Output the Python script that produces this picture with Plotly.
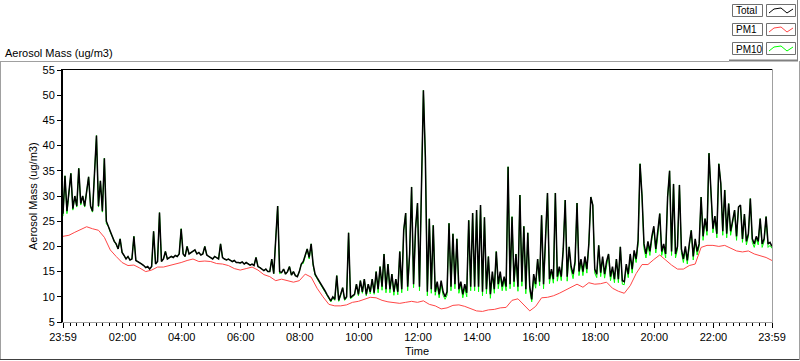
import pandas as pd
import plotly.graph_objects as go

# ---------------- data ----------------
START = "2009-06-01 23:59:00"
STEP_MIN = 4        # sampling interval of Total / PM10
PM1_STEP_MIN = 12   # sampling interval of PM1

total = [
    26.5, 34, 27, 31, 34.5, 27.5, 30, 28, 35.5, 28.5, 30, 28, 31.5, 33.8, 28,
    27, 34.5, 42, 28, 33, 27, 37.5, 25, 24, 22.8, 22, 21, 20.5, 19.5, 21.5,
    18.8, 18.2, 17.5, 18, 17.3, 17.5, 22, 17.2, 17, 16.8, 16.5, 16.2, 15.8, 16, 15.5,
    16, 23, 16.5, 17, 26.7, 17, 17.5, 19, 17.5, 17.8, 18, 17.8, 18.2, 18, 18.5,
    23.5, 18.5, 18, 20, 18.5, 18.8, 19, 19.3, 18.5, 18.8, 18.3, 18.5, 20, 18.3, 18,
    17.8, 17.5, 18, 17.8, 17.5, 20.5, 17.8, 17.5, 17.3, 17.5, 17.2, 17, 17.2, 16.8, 16.8,
    16.7, 16.9, 16.5, 16.8, 16.6, 16.3, 16.5, 16.2, 17.8, 16, 15.8, 15.4, 15.2, 15.5, 15,
    15, 17.5, 14.6, 21.2, 28, 15, 14.8, 15.5, 14.5, 15, 16, 14.3, 15, 14.2, 14,
    15, 16.5, 17, 18.2, 19.5, 17.8, 20.5, 16.5, 14.5, 13.8, 13.2, 12.5, 11.8, 11.2, 10.5,
    9.8, 9.2, 10, 9.5, 14.2, 9.3, 10.5, 11.8, 9.5, 10, 22.7, 9.8, 10.2, 10.5, 12.5,
    10.5, 13.2, 11, 13.5, 10.5, 12.5, 11, 13.5, 10.8, 15, 11.5, 16, 12, 18.5, 11.5,
    16.5, 11.5, 14.5, 11, 13.5, 11, 19, 11.5, 23.2, 26.6, 12, 18.5, 31.8, 12.5, 23.5,
    28.6, 12, 31, 51, 37.6, 11, 25.5, 11.5, 24.2, 11, 13, 10.5, 13.2, 11, 10,
    11, 24.6, 12, 22.5, 12.5, 21.5, 11.5, 13, 10.5, 12.5, 10.8, 25.2, 12, 26.6, 12,
    27.2, 12, 28.2, 11, 25.8, 11.5, 18, 10.5, 15, 11.5, 19, 12.5, 15, 12, 14,
    12, 35.8, 12.5, 25.9, 13, 18.5, 12, 30.2, 13, 24, 11.5, 22.7, 12, 9.5, 14.5,
    12.5, 17.5, 13, 26.2, 12.5, 22.5, 30.6, 13.5, 15.5, 13.5, 30.6, 14, 16, 14, 19.5,
    29.2, 14, 19.9, 16, 14.5, 17, 28.6, 15, 17.5, 15, 18, 15.5, 20.5, 29.8, 28.2,
    15.5, 14.5, 20.2, 14.8, 18, 14.5, 17, 18.5, 14, 16, 13.5, 17.5, 13.5, 19.9, 13.2,
    13, 16.5, 14.5, 18.5, 15.5, 19.2, 17.5, 21.2, 36.4, 30, 20.5, 18.5, 21, 19, 22,
    24, 19.5, 22.5, 26.5, 19, 20.5, 18.5, 29.8, 35, 19, 32.4, 18.5, 20, 32.2, 19.5,
    17.5, 20, 17.2, 20.5, 23.2, 18, 21.5, 19, 20.5, 29.8, 22, 25.5, 23, 38.5, 30,
    23.5, 26, 22.5, 36.4, 32.5, 23, 31.2, 22.5, 28.5, 23, 25, 27.2, 22, 27.8, 28.2,
    21.5, 26.4, 21, 22.5, 29.5, 21.5, 20.5, 22, 21, 25.5, 20.5, 21.5, 25.9, 20.5, 20.8, 20,
]

pm10 = [
    26, 34, 26.5, 31, 34.5, 27.2, 30, 27.8, 35.5, 28.2, 30, 27.8, 31.5, 33.8, 27.8,
    26.8, 34.5, 42, 27.8, 33, 26.8, 37.5, 24.5, 24, 22.8, 22, 21, 20.5, 19.5, 21.5,
    18.8, 18.2, 17.5, 18, 17.3, 17.5, 22, 17.2, 17, 16.8, 16.5, 16.2, 15.8, 16, 15.5,
    16, 23, 16.5, 17, 26.7, 17, 17.5, 19, 17.5, 17.8, 18, 17.8, 18.2, 18, 18.5,
    23.5, 18.5, 18, 20, 18.5, 18.8, 19, 19.3, 18.5, 18.8, 18.3, 18.5, 20, 18.3, 18,
    17.8, 17.5, 18, 17.8, 17.5, 20.5, 17.8, 17.5, 17.3, 17.5, 17.2, 17, 17.2, 16.8, 16.8,
    16.7, 16.9, 16.5, 16.8, 16.6, 16.3, 16.5, 16.2, 17.8, 16, 15.8, 15.4, 15.2, 15.5, 15,
    15, 17.5, 14.6, 21.2, 28, 14.6, 14.8, 15.5, 14.5, 15, 16, 14.3, 15, 14.2, 14,
    15, 16.5, 16.6, 18.2, 19.5, 17.5, 20.5, 16.2, 14.3, 13.6, 13, 12.3, 11.6, 11, 10.3,
    9.6, 9, 9.8, 9.3, 14.2, 9.1, 10.3, 11.8, 9.3, 9.8, 22.7, 9.6, 10, 10.3, 12.5,
    10.2, 13.2, 10.7, 13.5, 10.2, 12.5, 10.6, 13.5, 10.5, 15, 10.8, 16, 11.3, 18.5, 10.8,
    16.5, 10.8, 14.5, 10.3, 13.5, 10.4, 19, 10.8, 23.2, 26.6, 11.2, 18.5, 31.8, 11.8, 23.5,
    28.6, 11.2, 31, 51, 37.6, 10.2, 25.5, 10.7, 24.2, 10.3, 12.5, 9.8, 12.6, 10.3, 9.5,
    10.3, 24.6, 11.2, 22.5, 11.6, 21.5, 10.7, 12.4, 9.8, 11.8, 10, 25.2, 11.2, 26.6, 11.2,
    27.2, 11, 28.2, 10.2, 25.8, 10.6, 18, 9.7, 14.4, 10.7, 19, 11.6, 14.3, 11.2, 13.4,
    11.2, 35.8, 11.6, 25.9, 12, 18.5, 11.1, 30.2, 12.1, 24, 10.6, 22.7, 11.2, 9, 13.6,
    11.7, 17.5, 12.2, 26.2, 11.6, 22.5, 30.6, 12.6, 15, 12.7, 30.6, 13.1, 15.4, 13.2, 19.5,
    29.2, 13.1, 19.9, 15.3, 13.6, 16.5, 28.6, 14.2, 17, 14.2, 17.5, 14.7, 20.5, 29.8, 28.2,
    14.7, 13.8, 20.2, 14, 17.5, 13.7, 16.5, 18.5, 13.2, 15.5, 12.8, 17.5, 12.8, 19.9, 12.5,
    12.4, 16, 13.8, 18, 14.7, 18.7, 16.8, 20.5, 36.4, 30, 19.6, 17.7, 20.4, 18.2, 21.5,
    23.5, 18.7, 22, 26.5, 18.2, 20, 17.7, 29.8, 35, 18.2, 32.4, 17.7, 19.4, 32.2, 18.8,
    16.8, 19.5, 16.5, 20, 23.2, 17.3, 21, 18.3, 20, 29.8, 21.2, 25.5, 22.2, 38.5, 30,
    22.7, 26, 21.7, 36.4, 32.5, 22.2, 31.2, 21.7, 28.5, 22.2, 24.5, 27.2, 21.2, 27.8, 28.2,
    20.8, 26.4, 20.3, 22, 29.5, 20.8, 19.8, 21.5, 20.3, 25.5, 19.8, 21, 25.9, 19.8, 20.2, 19.6,
]

pm1 = [
    22, 22.2, 22.8, 23.3, 23.9, 23.5, 23.2, 21.8, 19.3, 18,
    16.8, 16.2, 16.3, 15.7, 15, 15.3, 15.9, 15.9, 16.2, 16.4,
    16.8, 17.2, 17.5, 17, 17.1, 17, 16.6, 16.5, 16.2, 15.6,
    15.3, 15.6, 15.9, 15.3, 14.4, 14, 13.2, 13.5, 13.2, 12.9,
    13.2, 14.5, 13.9, 11.7, 10, 8.5, 8.2, 8.2, 8.4, 8.9,
    9.1, 9.5, 9.9, 9.8, 9.3, 9, 8.8, 8.7, 8.9, 9.1,
    8.9, 9.2, 8.5, 8.2, 7.6, 7.8, 8.3, 8.4, 8.1, 7.7,
    7.2, 7.1, 7.4, 7.5, 7.8, 7.9, 9.3, 9.6, 8.3, 7.2,
    8.1, 9.8, 9.9, 10.2, 10.7, 11.3, 12, 12.5, 11.9, 12.8,
    12.5, 12.6, 12.9, 11.7, 11.1, 10.7, 12.2, 14.6, 16.4, 16.4,
    17.4, 18.3, 17.3, 16.3, 15.5, 15.5, 16.2, 16.5, 19.8, 20.2,
    20.2, 20, 20.2, 19.6, 19.1, 18.9, 19.1, 18.5, 18.1, 17.8, 17.2,
]

tick_labels = ["23:59", "02:00", "04:00", "06:00", "08:00", "10:00", "12:00",
               "14:00", "16:00", "18:00", "20:00", "22:00", "23:59"]
y_ticks = [5, 10, 15, 20, 25, 30, 35, 40, 45, 50, 55]
series_names = ["Total", "PM1", "PM10"]
series_colors = ["#000000", "#ff4646", "#00ff00"]

# ---------------- derived time axes ----------------
t0 = pd.Timestamp(START)
t_end = t0 + pd.Timedelta(days=1)
x_4min = pd.date_range(t0, periods=len(total), freq=f"{STEP_MIN}min")
x_pm1 = pd.date_range(t0, periods=len(pm1), freq=f"{PM1_STEP_MIN}min")
day2 = (t0 + pd.Timedelta(days=1)).normalize()
tick_vals = [t0] + [day2 + pd.Timedelta(lab + ":00") for lab in tick_labels[1:-1]] + [t_end]

# ---------------- layout geometry (pixels) ----------------
W, H = 800, 361
L, R, T, B = 63, 772, 70, 322


def px(x):
    return (x - L) / (R - L)


def py(y):
    return (B - y) / (B - T)


FONT = "Liberation Sans, Arial, sans-serif"

fig = go.Figure()
fig.add_trace(go.Scatter(x=x_4min, y=pm10, mode="lines", name="PM10",
                         line=dict(color=series_colors[2], width=1), hoverinfo="skip"))
fig.add_trace(go.Scatter(x=x_pm1, y=pm1, mode="lines", name="PM1",
                         line=dict(color=series_colors[1], width=1), hoverinfo="skip"))
fig.add_trace(go.Scatter(x=x_4min, y=total, mode="lines", name="Total",
                         line=dict(color=series_colors[0], width=1.5), hoverinfo="skip"))

shapes = []


def hline(x0, x1, y, color, w=1):
    shapes.append(dict(type="line", xref="paper", yref="paper", x0=px(x0), x1=px(x1),
                       y0=py(y), y1=py(y), line=dict(color=color, width=w)))


def vline(x, y0, y1, color, w=1):
    shapes.append(dict(type="line", xref="paper", yref="paper", x0=px(x), x1=px(x),
                       y0=py(y0), y1=py(y1), line=dict(color=color, width=w)))


def rect(x0, y0, x1, y1, color):
    shapes.append(dict(type="rect", xref="paper", yref="paper", x0=px(x0), x1=px(x1),
                       y0=py(y0), y1=py(y1), line=dict(color=color, width=1)))


# outer panel frame
hline(0, 729, 61.5, "#a0a0a0")
vline(0.5, 61, 360, "#a0a0a0")
hline(0, 800, 359.5, "#404040")
vline(799.5, 61, 360, "#a0a0a0")
# legend container border
hline(729, 798, 60.5, "#808080", 2)
vline(797.5, 0, 61, "#808080")
# plot area border
hline(62, 772, 69.5, "#000000")
vline(62, 69, 322, "#000000", 2)
vline(772.5, 69, 323, "#a0a0a0")
hline(62, 773, 322.5, "#a0a0a0")

# custom legend
annotations = []
row_y = [4.5, 23.5, 42.5]
zig = [(769, 13), (774, 9), (781, 8), (787, 13), (793, 9)]
for name, color, y0 in zip(series_names, series_colors, row_y):
    rect(732.5, y0, 762.5, y0 + 12, "#707070")
    rect(766.5, y0, 795.5, y0 + 12, "#707070")
    path = "M " + " L ".join(f"{px(a)},{py(b - 4.5 + y0)}" for a, b in zig)
    shapes.append(dict(type="path", xref="paper", yref="paper", path=path,
                       line=dict(color=color, width=1)))
    annotations.append(dict(xref="paper", yref="paper", x=px(733.5), y=py(y0 + 6.5),
                            xanchor="left", yanchor="middle", text=name, showarrow=False,
                            font=dict(family=FONT, size=10, color="black")))

annotations += [
    dict(xref="paper", yref="paper", x=px(3), y=py(52.5), xanchor="left", yanchor="middle",
         text="Aerosol Mass (ug/m3)", showarrow=False,
         font=dict(family=FONT, size=11, color="black")),
    dict(xref="paper", yref="paper", x=px(33), y=py(196), xanchor="center", yanchor="middle",
         text="Aerosol Mass (ug/m3)", textangle=-90, showarrow=False,
         font=dict(family=FONT, size=11, color="black")),
    dict(xref="paper", yref="paper", x=px(416.5), y=py(351), xanchor="center", yanchor="middle",
         text="Time", showarrow=False, font=dict(family=FONT, size=11, color="black")),
]

fig.update_layout(
    width=W, height=H,
    margin=dict(l=L, r=W - R, t=T, b=H - B, pad=0),
    paper_bgcolor="white", plot_bgcolor="white",
    showlegend=False, hovermode=False,
    font=dict(family=FONT, size=11, color="black"),
    shapes=shapes, annotations=annotations,
    xaxis=dict(
        type="date", range=[t0, t_end], tickmode="array", tickvals=tick_vals,
        ticktext=tick_labels, ticks="outside", ticklen=5, tickwidth=1, tickcolor="black",
        showgrid=False, zeroline=False, showline=False, fixedrange=True, automargin=False,
        tickfont=dict(family=FONT, size=11, color="black"),
        minor=dict(ticks="outside", ticklen=3, tickwidth=1, tickcolor="black",
                   tickmode="linear", tick0=str(day2), dtick=800000, showgrid=False),
    ),
    yaxis=dict(
        range=[5, 55], tickmode="array", tickvals=y_ticks, ticks="outside", ticklen=5,
        tickwidth=1, tickcolor="black", showgrid=False, zeroline=False, showline=False,
        fixedrange=True, automargin=False, tickfont=dict(family=FONT, size=11, color="black"),
    ),
)

fig.write_html(
    "out.html",
    config={"displayModeBar": False},
    post_script="document.body.style.margin='0';document.body.style.overflow='hidden';",
)
